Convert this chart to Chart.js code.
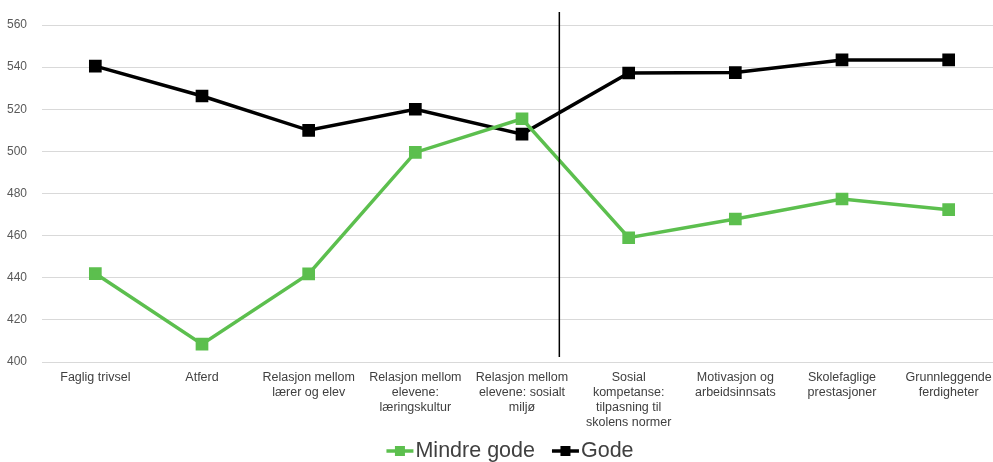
<!DOCTYPE html>
<html>
<head>
<meta charset="utf-8">
<script src="https://cdn.jsdelivr.net/npm/chart.js@4"></script>
<style>
  html, body { margin: 0; padding: 0; background: #fff; overflow: hidden; }
</style>
</head>
<body>
<canvas id="chart" width="1012" height="462" style="width:1012px;height:462px;display:block"></canvas>
<script>
// Kategorier langs x-aksen
const categories = [
  "Faglig trivsel",
  "Atferd",
  ["Relasjon mellom", "lærer og elev"],
  ["Relasjon mellom", "elevene:", "læringskultur"],
  ["Relasjon mellom", "elevene: sosialt", "miljø"],
  ["Sosial", "kompetanse:", "tilpasning til", "skolens normer"],
  ["Motivasjon og", "arbeidsinnsats"],
  ["Skolefaglige", "prestasjoner"],
  ["Grunnleggende", "ferdigheter"]
];

// Verdier for de to seriene
const mindreGode = [442, 408.5, 441.8, 499.5, 515.5, 459, 467.9, 477.4, 472.3];
const gode = [540.5, 526.3, 510, 520, 508.2, 537.2, 537.4, 543.4, 543.4];

// Y-akse
const yMin = 400;
const yMax = 560;
const yStep = 20;

// Skillelinje mellom kategori 5 og 6
const dividerAt = 4.35;
const dividerTop = 566.2;
const dividerBottom = 402.4;

const green = "#5cbf4e";
const black = "#000000";
const fontFamily = "Liberation Sans, Arial, sans-serif";

// Skillelinje
const dividerPlugin = {
  id: "divider",
  afterDatasetsDraw(chart) {
    const x = chart.scales.x.getPixelForValue(dividerAt);
    const y1 = chart.scales.y.getPixelForValue(dividerTop);
    const y2 = chart.scales.y.getPixelForValue(dividerBottom);
    const ctx = chart.ctx;
    ctx.save();
    ctx.strokeStyle = "#000";
    ctx.lineWidth = 1.5;
    ctx.beginPath();
    ctx.moveTo(x, y1);
    ctx.lineTo(x, y2);
    ctx.stroke();
    ctx.restore();
  }
};

// Egen legende: linje + firkant, tett inntil teksten
const legendPlugin = {
  id: "customLegend",
  afterDraw(chart) {
    const ctx = chart.ctx;
    const items = chart.data.datasets.map(ds => ({ text: ds.label, color: ds.borderColor }));
    const iconW = 27;
    const iconGap = 2;
    const itemGap = 17;
    const centerX = 510;
    const y = 451;
    ctx.save();
    ctx.font = "21.5px " + fontFamily;
    let total = 0;
    items.forEach((it, i) => {
      it.w = ctx.measureText(it.text).width;
      total += iconW + iconGap + it.w + (i ? itemGap : 0);
    });
    let x = centerX - total / 2;
    items.forEach(it => {
      ctx.strokeStyle = it.color;
      ctx.fillStyle = it.color;
      ctx.lineWidth = 3.5;
      ctx.beginPath();
      ctx.moveTo(x, y);
      ctx.lineTo(x + iconW, y);
      ctx.stroke();
      ctx.fillRect(x + iconW / 2 - 5, y - 5, 10, 10);
      x += iconW + iconGap;
      ctx.fillStyle = "#404040";
      ctx.textBaseline = "middle";
      ctx.textAlign = "left";
      ctx.fillText(it.text, x, y);
      x += it.w + itemGap;
    });
    ctx.restore();
  }
};

const ctx = document.getElementById("chart").getContext("2d");
new Chart(ctx, {
  type: "line",
  data: {
    labels: categories,
    datasets: [
      {
        label: "Mindre gode",
        data: mindreGode,
        borderColor: green,
        backgroundColor: green,
        borderWidth: 3.5,
        pointStyle: "rect",
        pointRadius: 6.5,
        pointHoverRadius: 6.5,
        tension: 0
      },
      {
        label: "Gode",
        data: gode,
        borderColor: black,
        backgroundColor: black,
        borderWidth: 3.5,
        pointStyle: "rect",
        pointRadius: 6.5,
        pointHoverRadius: 6.5,
        tension: 0
      }
    ]
  },
  options: {
    responsive: false,
    animation: false,
    devicePixelRatio: 1,
    layout: { padding: { top: 25, left: 0, right: 0, bottom: 32 } },
    plugins: {
      tooltip: { enabled: false },
      legend: { display: false }
    },
    scales: {
      x: {
        offset: true,
        grid: { display: false, drawTicks: false },
        border: { display: false },
        afterFit(scale) { scale.height = 68; },
        ticks: {
          color: "#404040",
          font: { family: fontFamily, size: 12.5, lineHeight: 1.2 },
          maxRotation: 0,
          autoSkip: false,
          padding: 8
        }
      },
      y: {
        min: yMin,
        max: yMax,
        afterFit(scale) { scale.width = 42; },
        grid: { color: "#d9d9d9", lineWidth: 1, drawTicks: false },
        border: { display: false },
        ticks: {
          stepSize: yStep,
          color: "#595959",
          font: { family: fontFamily, size: 12 },
          padding: 15
        }
      }
    }
  },
  plugins: [dividerPlugin, legendPlugin]
});
</script>
</body>
</html>
